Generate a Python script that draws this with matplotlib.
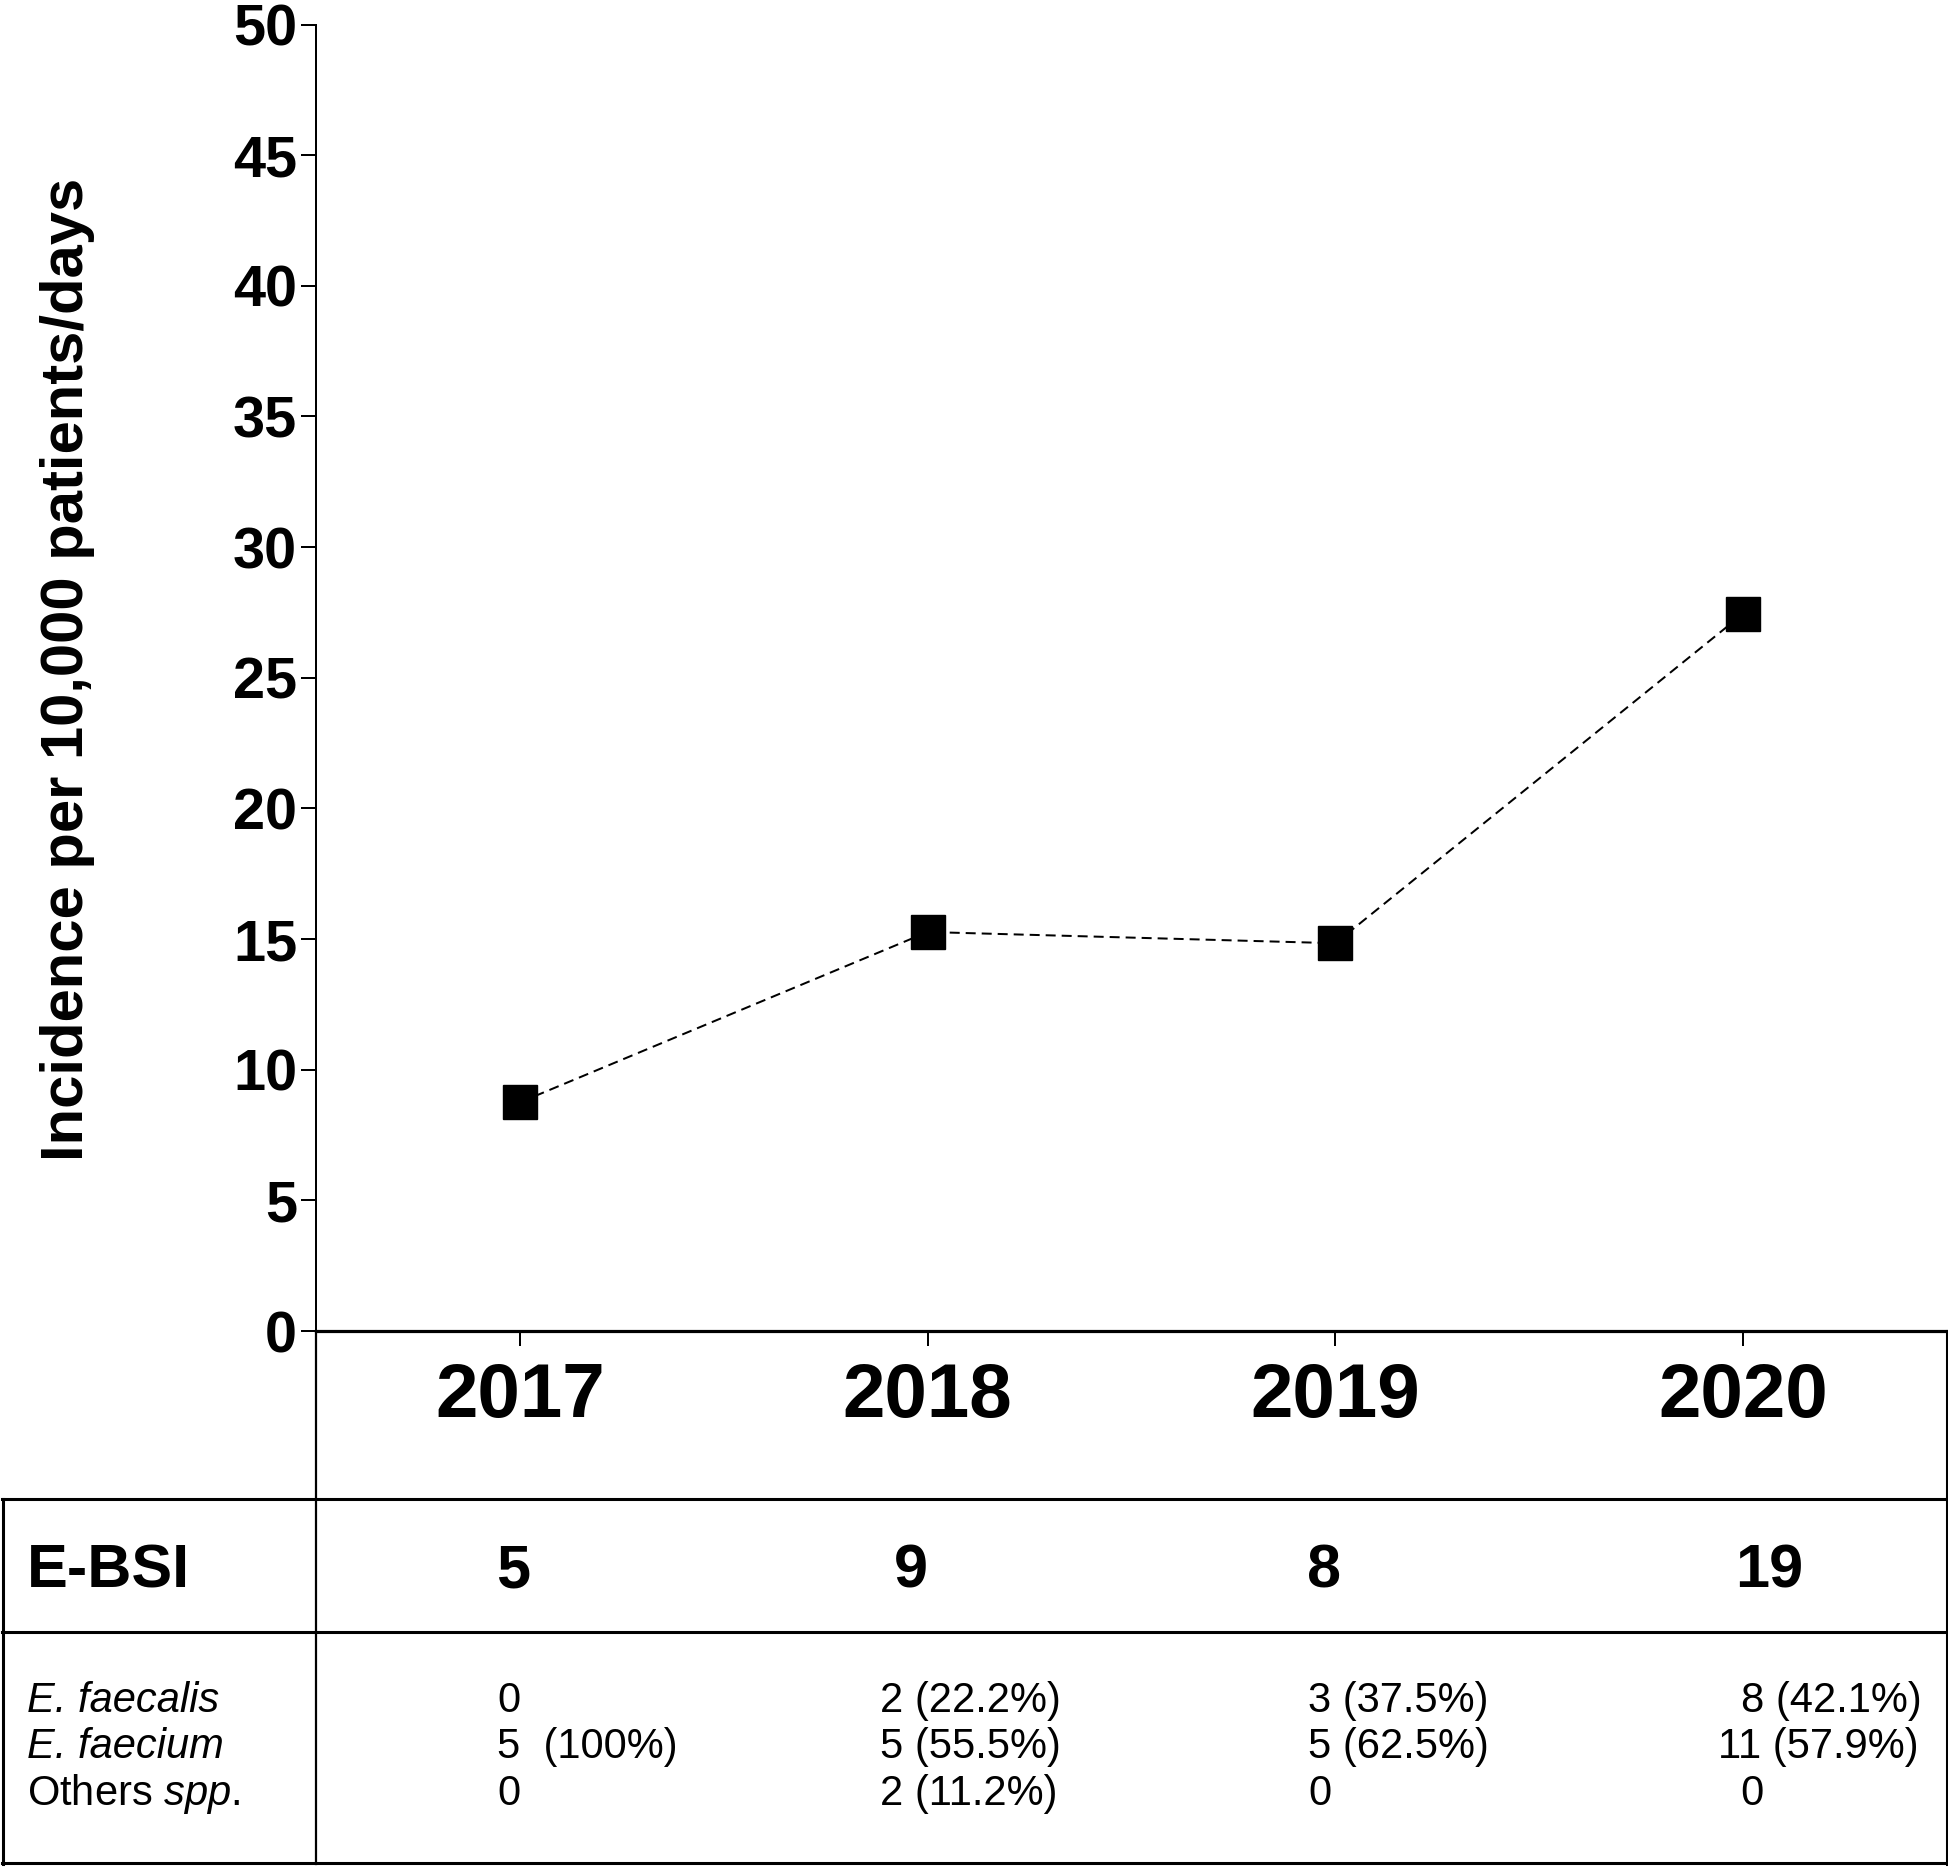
import matplotlib
matplotlib.use("Agg")
import matplotlib.pyplot as plt
from matplotlib.lines import Line2D
from matplotlib.transforms import blended_transform_factory

plt.rcParams['font.family'] = ['Liberation Sans', 'DejaVu Sans']
plt.rcParams['mathtext.fontset'] = 'custom'
plt.rcParams['mathtext.rm'] = 'Liberation Sans'
plt.rcParams['mathtext.it'] = 'Liberation Sans:italic'

# data
years = ['2017', '2018', '2019', '2020']
incidence = [8.75, 15.27, 14.84, 27.45]
ebsi = [5, 9, 8, 19]
row_names = ['E. faecalis', 'E. faecium', r'Others $\mathit{spp}$.']
row_italic = [True, True, False]
faecalis = ['0', '2 (22.2%)', '3 (37.5%)', '\u20078 (42.1%)']
faecium = ['5  (100%)', '5 (55.5%)', '5 (62.5%)', '11 (57.9%)']
others = ['0', '2 (11.2%)', '0', '\u20070']

W, H = 1949, 1867
fig = plt.figure(figsize=(W / 100, H / 100), dpi=100)

# main axes, in pixel layout of the reference
ax = fig.add_axes([316 / W, 1 - 1331 / H, (1947 - 316) / W, (1331 - 24.5) / H])
x = list(range(1, len(years) + 1))
ax.plot(x, incidence, color='black', lw=1.44, linestyle=(0, (5, 3)),
        marker='s', markersize=24, markerfacecolor='black', markeredgecolor='black')
ax.set_xlim(0.5, len(years) + 0.5)
ax.set_ylim(0, 50)
ax.set_yticks(range(0, 51, 5))
ax.set_xticks(x)
ax.set_xticklabels(years, fontsize=55, fontweight='bold')
for t in ax.get_yticklabels():
    t.set_fontsize(41.5)
    t.set_fontweight('bold')
ax.tick_params(axis='y', length=10.5, width=1.44, pad=3)
ax.tick_params(axis='x', length=11, width=1.44, pad=11)
ax.spines['top'].set_visible(False)
ax.spines['right'].set_visible(False)
ax.spines['left'].set_linewidth(1.44)
ax.spines['bottom'].set_linewidth(2.3)
ax.patch.set_visible(False)

fig.text(68 / W, 1 - 669 / H, 'Incidence per 10,000 patients/days', rotation=90,
         ha='center', va='center', fontsize=43, fontweight='bold')


# table grid below the plot
def hline(y, x0=0, x1=W, lw=2.2):
    fig.add_artist(Line2D([x0 / W, x1 / W], [1 - y / H, 1 - y / H], color='black', lw=lw))


def vline(xp, y0, y1, lw=1.6):
    fig.add_artist(Line2D([xp / W, xp / W], [1 - y0 / H, 1 - y1 / H], color='black', lw=lw))


hline(1499, x0=2)
hline(1632, x0=2)
hline(1863, x0=2)
vline(316, 1331, 1864)
vline(1947, 1331, 1864, lw=2.2)
vline(3, 1499, 1864, lw=2.2)

tr = blended_transform_factory(ax.transData, fig.transFigure)

# E-BSI row
fig.text(27 / W, 1 - 1587 / H, 'E-BSI', fontsize=44, fontweight='bold', va='baseline')
ebsi_dx = [-0.017, -0.042, -0.027, 0.064]
for xi, n, dx in zip(x, ebsi, ebsi_dx):
    ax.text(xi + dx, 1 - 1587 / H, str(n), transform=tr, fontsize=44,
            fontweight='bold', ha='center', va='baseline', clip_on=False)

# species rows
row_base = [1712, 1758, 1805]
cell_dx = [-0.056, -0.118, -0.066, -0.061]
for name, it, vals, yb in zip(row_names, row_italic, [faecalis, faecium, others], row_base):
    fig.text(27 / W, 1 - yb / H, name, fontsize=30, va='baseline',
             fontstyle='italic' if it else 'normal')
    for xi, v, dx in zip(x, vals, cell_dx):
        ax.text(xi + dx, 1 - yb / H, v, transform=tr, fontsize=30,
                ha='left', va='baseline', clip_on=False)

fig.savefig('out.png', dpi=100)
